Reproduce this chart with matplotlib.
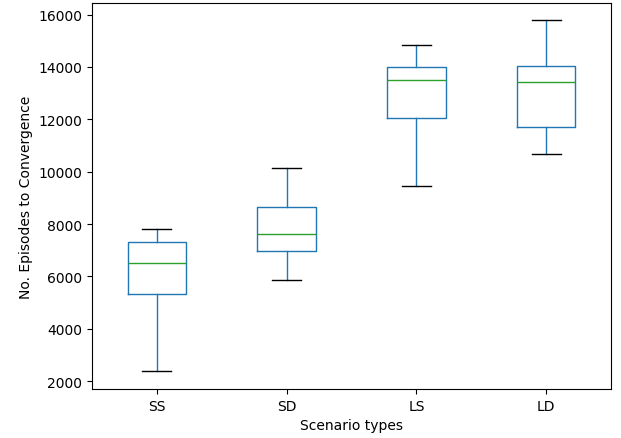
import matplotlib
matplotlib.use("Agg")
import matplotlib.pyplot as plt

# Box statistics per scenario type (episodes to convergence)
scenarios = ["SS", "SD", "LS", "LD"]
whisker_low = [2380, 5880, 9440, 10670]
q1 = [5330, 6990, 12070, 11690]
median = [6530, 7640, 13515, 13440]
q3 = [7320, 8640, 13985, 14035]
whisker_high = [7800, 10125, 14830, 15775]

stats = []
for name, lo, a, m, b, hi in zip(scenarios, whisker_low, q1, median, q3, whisker_high):
    stats.append({"label": name, "whislo": lo, "q1": a, "med": m, "q3": b,
                  "whishi": hi, "fliers": []})

fig = plt.figure(figsize=(6.21, 4.39), dpi=100)
ax = fig.add_axes([0.148, 0.112, 0.836, 0.879])

ax.bxp(stats, showfliers=False,
       boxprops=dict(color="C0"),
       whiskerprops=dict(color="C0"),
       medianprops=dict(color="C2"),
       capprops=dict(color="k"))

ax.set_xlabel("Scenario types")
ax.set_ylabel("No. Episodes to Convergence")
ax.set_yticks(range(2000, 16001, 2000))

fig.savefig("out.png", dpi=100)
